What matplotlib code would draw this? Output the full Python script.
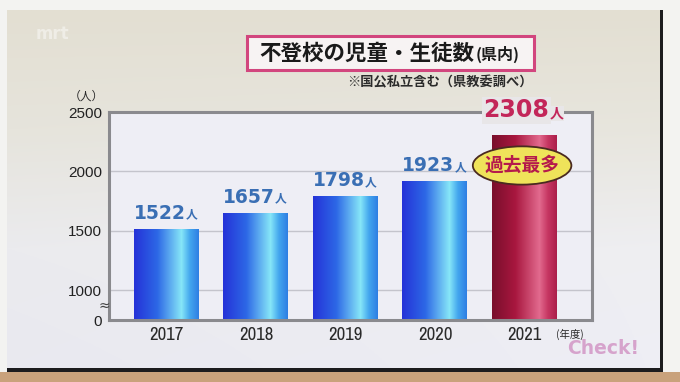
import numpy as np
import matplotlib
matplotlib.use("Agg")
import matplotlib.pyplot as plt
from matplotlib.patches import Rectangle, Ellipse, FancyBboxPatch
from matplotlib.colors import LinearSegmentedColormap
from matplotlib import font_manager

# ---------------- data ----------------
years = ["2017", "2018", "2019", "2020", "2021"]
counts = [1522, 1657, 1798, 1923, 2308]
yticks = [0, 1000, 1500, 2000, 2500]
ytick_labels = ["0", "1000", "1500", "2000", "2500"]
highlight_index = 4
title_main = "不登校の児童・生徒数"
title_sub = "(県内)"
note = "※国公私立含む（県教委調べ）"
unit = "（人）"
xunit = "(年度)"
badge_text = "過去最多"

available = {f.name for f in font_manager.fontManager.ttflist}
NARROW = "Archivo Narrow" if "Archivo Narrow" in available else "Liberation Sans"
CJK = "Noto Sans CJK JP"
plt.rcParams["font.family"] = ["Liberation Sans", CJK, "DejaVu Sans"]

W, H = 680, 382
fig = plt.figure(figsize=(W / 100, H / 100), dpi=100)
fig.patch.set_facecolor("#f3f3f1")

def fx(px):
    return px / W

def fy(py):
    return 1 - py / H

# ---------------- TV screen background ----------------
fig.add_artist(Rectangle((0, 0), 1, fy(372), transform=fig.transFigure,
                         facecolor="#c9a27c", edgecolor="none", zorder=-10))
fig.add_artist(Rectangle((fx(7), fy(372)), fx(663) - fx(7), fy(10) - fy(372),
                         transform=fig.transFigure, facecolor="#1c1c1e",
                         edgecolor="none", zorder=-9))
bg = fig.add_axes([fx(7), fy(368), fx(660) - fx(7), fy(10) - fy(368)], zorder=-8)
grad = np.linspace(0, 1, 256)[:, None]
bg_cmap = LinearSegmentedColormap.from_list("bg", ["#e3dfd2", "#e6e4dc", "#ebebee", "#e9e9f0"])
horiz = np.linspace(0, 1, 256)[None, :]
img = bg_cmap(grad * np.ones_like(horiz))
img[..., :3] = np.clip(img[..., :3] + 0.02 * horiz[..., None] * grad[..., None], 0, 1)
bg.imshow(img, aspect="auto", extent=(0, 1, 0, 1), origin="upper")
bg.set_axis_off()

# ---------------- broken y scale ----------------
def fwd(v):
    v = np.asarray(v, dtype=float)
    return np.where(v <= 1000, v * 0.5 / 1000, 0.5 + (v - 1000) / 500)

def inv(u):
    u = np.asarray(u, dtype=float)
    return np.where(u <= 0.5, u * 1000 / 0.5, 1000 + (u - 0.5) * 500)

ax = fig.add_axes([fx(109), fy(320), fx(592) - fx(109), fy(112) - fy(320)])
ax.set_yscale("function", functions=(fwd, inv))
ax.set_ylim(0, 2500)
x = np.arange(len(years))
ax.set_xlim(-0.64, len(years) - 1 + 0.75)
ax.set_facecolor("#eeeef5")
for s in ax.spines.values():
    s.set_color("#8a8a8e")
    s.set_linewidth(2.2)

ax.set_yticks(yticks)
ax.set_yticklabels(ytick_labels, fontsize=11, color="#222222", family=["Liberation Sans", "DejaVu Sans"])
ax.tick_params(axis="y", length=0, pad=5)
ax.set_xticks(x)
ax.set_xticklabels(years, fontsize=13.5, color="#2a2a2a", family=[NARROW, "DejaVu Sans"])
ax.tick_params(axis="x", length=0, pad=5)
for g in [1000, 1500, 2000]:
    ax.axhline(g, color="#c4c4cc", lw=1.0, zorder=0.5)

bars = ax.bar(x, counts, width=0.73, color="none", edgecolor="none", zorder=2)

blue_cmap = LinearSegmentedColormap.from_list(
    "blue", [(0, "#2533d8"), (0.35, "#2d68e6"), (0.72, "#86e6f8"), (0.85, "#43a6ee"), (1, "#2c7ae2")])
red_cmap = LinearSegmentedColormap.from_list(
    "red", [(0, "#7a0f2c"), (0.35, "#a8173f"), (0.72, "#e26a8e"), (0.85, "#c63662"), (1, "#a81c48")])

gx = np.linspace(0, 1, 256)[None, :]
for i, b in enumerate(bars):
    cm = red_cmap if i == highlight_index else blue_cmap
    x0, w, h = b.get_x(), b.get_width(), b.get_height()
    im = ax.imshow(cm(gx), extent=(x0, x0 + w, 0, h), aspect="auto", zorder=2.5,
                   interpolation="bilinear")
    im.set_clip_path(b)
ax.set_xlim(-0.64, len(years) - 1 + 0.75)
ax.set_ylim(0, 2500)

# value labels
for i, (xi, v) in enumerate(zip(x, counts)):
    if i == highlight_index:
        t = ax.annotate(f"{v}", xy=(xi, v), xytext=(-6, 9), textcoords="offset points",
                        ha="center", va="bottom", fontsize=17, fontweight="bold",
                        color="#c3265a", family="DejaVu Sans", zorder=6, annotation_clip=False,
                        bbox=dict(boxstyle="square,pad=0.05", fc="#e8e6e8", ec="none"))
        ax.annotate("人", xy=(1, 0.08), xycoords=t, ha="left", va="bottom", fontsize=10,
                    fontweight="bold", color="#c3265a", family=CJK, zorder=6,
                    bbox=dict(boxstyle="square,pad=0.05", fc="#e8e6e8", ec="none"))
    else:
        t = ax.annotate(f"{v}", xy=(xi, v), xytext=(-5, 4), textcoords="offset points",
                        ha="center", va="bottom", fontsize=13.5, fontweight="bold",
                        color="#3a6fb4", family="DejaVu Sans", zorder=6)
        ax.annotate("人", xy=(1, 0.05), xycoords=t, ha="left", va="bottom", fontsize=8.5,
                    fontweight="bold", color="#3a6fb4", family=CJK, zorder=6)

# badge
ax.add_patch(Ellipse((highlight_index - 0.03, 2050), 1.1, 322, facecolor="#efe35a",
                     edgecolor="#4a2a20", lw=1.3, zorder=7, clip_on=False))
ax.text(highlight_index - 0.03, 2050, badge_text, ha="center", va="center", fontsize=13.5,
        fontweight="bold", color="#b51a4c", family=CJK, zorder=8)

# axis break mark
fig.text(fx(104), fy(306), "≈", ha="center", va="center", fontsize=10, color="#444444",
         family="DejaVu Sans")

# ---------------- titles / notes ----------------
fig.add_artist(FancyBboxPatch((fx(247), fy(70)), fx(534) - fx(247), fy(36) - fy(70),
                              boxstyle="square,pad=0", transform=fig.transFigure,
                              facecolor="#f7f3f3", edgecolor="#d2467e", lw=2.2, zorder=5))
fig.text(fx(259), fy(53), title_main, ha="left", va="center", fontsize=15.5,
         fontweight="bold", color="#1a1a1a", family=CJK, zorder=6)
fig.text(fx(476), fy(54), title_sub, ha="left", va="center", fontsize=11.5,
         fontweight="bold", color="#1a1a1a", family=CJK, zorder=6)
fig.text(fx(533), fy(82), note, ha="right", va="center", fontsize=9.5,
         fontweight="bold", color="#2a2a2a", family=CJK)
fig.text(fx(86), fy(96), unit, ha="center", va="center", fontsize=8.5,
         color="#2a2a2a", family=CJK)
fig.text(fx(556), fy(334), xunit, ha="left", va="center", fontsize=7.5,
         color="#2a2a2a", family=CJK)
fig.text(fx(603), fy(349), "Check!", ha="center", va="center", fontsize=13.5,
         fontweight="bold", color="#d6a3cc", family="DejaVu Sans")
fig.text(fx(52), fy(34), "mrt", ha="center", va="center", fontsize=12,
         fontweight="bold", color="#ffffff", alpha=0.45, family="DejaVu Sans")

fig.savefig("out.png", dpi=100, facecolor=fig.get_facecolor())
